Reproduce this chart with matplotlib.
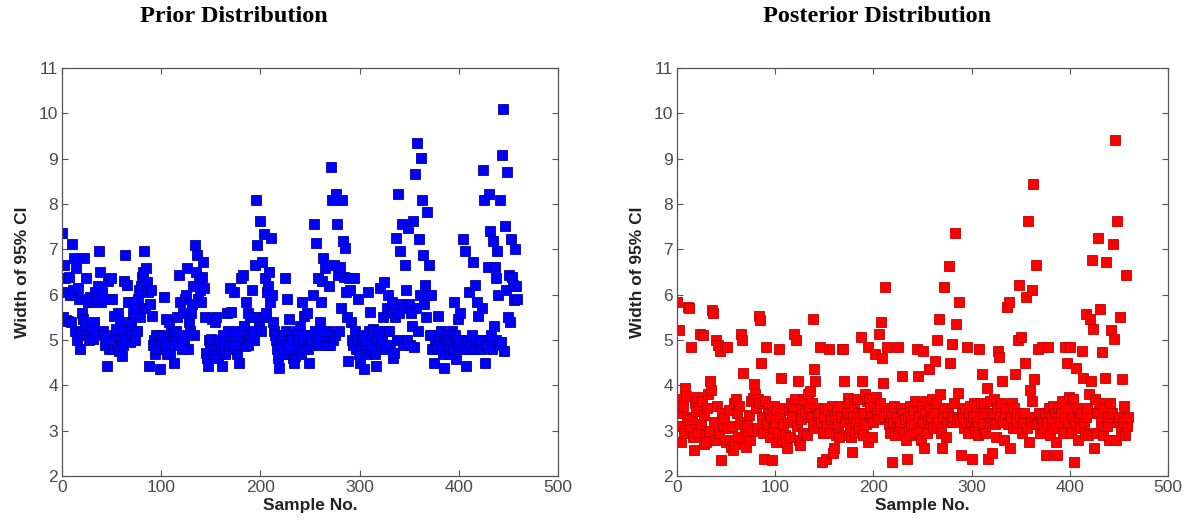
import matplotlib
matplotlib.use("Agg")
import matplotlib.pyplot as plt
import numpy as np

prior_width = [
    7.37, 5.50, 6.66, 6.36, 5.45, 6.06, 5.43, 6.40, 6.00, 5.40,
    7.12, 6.10, 6.80, 5.20, 6.58, 5.00, 6.14, 5.91, 4.80, 5.17,
    5.60, 5.47, 6.80, 5.30, 6.36, 5.10, 5.84, 5.00, 5.95, 5.20,
    5.84, 5.02, 5.40, 6.05, 5.17, 5.90, 6.20, 6.96, 6.50, 5.84,
    6.06, 5.20, 5.10, 4.90, 5.00, 4.42, 6.30, 4.80, 5.90, 6.36,
    5.90, 4.80, 5.54, 5.10, 5.24, 4.90, 5.60, 4.75, 5.40, 5.00,
    4.65, 4.90, 5.20, 6.30, 6.88, 5.00, 6.21, 5.84, 5.24, 4.95,
    5.39, 5.10, 5.60, 5.84, 5.00, 5.70, 5.20, 5.90, 6.10, 5.50,
    6.20, 6.40, 6.50, 6.96, 5.70, 6.58, 6.29, 6.06, 4.42, 5.80,
    6.10, 5.54, 4.90, 5.00, 4.70, 5.10, 4.90, 4.80, 5.10, 4.35,
    5.00, 4.80, 5.10, 5.95, 4.90, 5.47, 4.70, 5.00, 5.40, 4.72,
    5.20, 4.95, 5.10, 4.50, 5.00, 5.20, 5.50, 4.90, 6.43, 5.84,
    5.10, 4.80, 5.60, 5.00, 5.90, 6.00, 6.58, 4.80, 5.40, 5.20,
    5.60, 5.80, 6.20, 5.10, 7.10, 6.50, 6.88, 5.90, 6.36, 6.10,
    5.84, 6.40, 6.73, 6.14, 5.50, 4.72, 4.60, 4.42, 5.00, 4.80,
    5.02, 5.47, 4.70, 4.80, 5.39, 5.50, 4.90, 4.60, 5.00, 4.70,
    4.80, 4.42, 5.10, 4.87, 4.70, 5.00, 5.60, 5.20, 4.90, 6.14,
    5.62, 5.10, 4.80, 6.06, 5.00, 5.20, 4.70, 4.90, 4.50, 5.10,
    6.36, 5.00, 6.43, 5.30, 4.87, 5.84, 5.00, 5.60, 4.90, 5.10,
    5.50, 5.00, 6.10, 5.20, 5.00, 6.66, 8.08, 7.10, 5.50, 5.40,
    7.63, 5.20, 6.73, 5.50, 7.33, 6.36, 5.60, 6.06, 6.20, 6.50,
    5.84, 7.25, 6.00, 5.39, 5.20, 5.10, 5.00, 4.80, 4.60, 4.39,
    4.90, 5.00, 4.70, 5.10, 4.80, 6.36, 5.20, 5.91, 4.90, 5.47,
    4.70, 5.10, 5.00, 4.60, 4.50, 4.65, 4.80, 5.20, 4.90, 5.00,
    5.30, 4.70, 5.84, 5.00, 5.54, 4.80, 5.10, 5.60, 4.80, 4.50,
    5.10, 4.90, 5.00, 6.00, 7.55, 5.20, 7.14, 4.90, 6.36, 5.00,
    5.40, 5.84, 6.30, 6.80, 5.17, 6.58, 5.00, 4.90, 5.20, 6.20,
    4.90, 8.82, 8.08, 5.00, 6.66, 5.10, 8.22, 7.55, 6.43, 5.20,
    6.60, 5.70, 8.08, 7.18, 6.40, 7.03, 6.06, 5.50, 4.53, 6.36,
    6.10, 5.40, 5.00, 4.90, 6.36, 5.20, 4.80, 5.00, 5.91, 4.70,
    4.50, 5.00, 4.80, 5.10, 4.35, 4.90, 5.00, 4.70, 6.06, 5.20,
    5.62, 4.80, 5.00, 4.90, 5.24, 5.10, 4.70, 4.42, 5.00, 4.80,
    5.20, 6.14, 4.90, 5.00, 5.50, 6.29, 4.80, 5.20, 5.70, 5.99,
    5.20, 4.90, 5.60, 5.84, 4.60, 4.72, 5.50, 7.25, 5.00, 8.22,
    5.60, 6.96, 5.80, 7.55, 4.90, 5.70, 6.66, 6.10, 5.00, 7.47,
    5.80, 4.90, 5.60, 5.30, 7.63, 4.85, 8.67, 5.70, 9.34, 5.20,
    7.22, 6.00, 9.01, 8.08, 6.88, 5.80, 6.21, 5.50, 7.82, 5.99,
    6.66, 5.10, 5.99, 4.80, 5.10, 4.50, 4.90, 5.00, 4.80, 5.54,
    5.00, 4.90, 5.20, 4.80, 4.70, 4.39, 5.00, 4.90, 5.10, 4.80,
    5.00, 4.70, 4.90, 5.20, 4.80, 5.84, 5.10, 4.57, 5.00, 5.47,
    4.90, 5.60, 4.80, 5.00, 7.22, 4.90, 6.96, 4.42, 5.00, 4.80,
    6.06, 5.00, 4.90, 5.10, 6.73, 4.80, 6.21, 5.00, 5.84, 5.54,
    4.90, 5.00, 4.80, 5.70, 8.75, 8.08, 4.50, 5.00, 4.90, 6.60,
    8.22, 7.40, 5.10, 4.80, 7.18, 5.30, 6.62, 6.36, 5.00, 6.96,
    5.99, 4.90, 8.08, 4.95, 9.08, 10.09, 4.76, 7.52, 6.10, 8.71,
    5.50, 6.43, 5.39, 7.22, 6.40, 6.21, 5.88, 7.00, 6.20, 5.90,
]

posterior_width = [
    5.84, 3.39, 5.21, 3.70, 2.76, 3.10, 3.55, 2.95, 3.95, 3.76,
    3.30, 5.73, 5.70, 3.10, 4.84, 3.25, 2.85, 2.57, 3.60, 3.43,
    3.75, 2.95, 3.50, 5.14, 3.15, 3.65, 5.10, 2.70, 3.35, 2.90,
    2.76, 3.50, 3.80, 3.00, 4.10, 3.90, 5.66, 5.60, 3.20, 2.80,
    4.99, 3.55, 4.90, 2.95, 4.76, 2.35, 3.40, 3.10, 3.28, 4.85,
    2.75, 4.84, 3.05, 3.45, 2.80, 2.65, 3.10, 2.57, 3.60, 2.70,
    3.70, 3.40, 2.85, 3.55, 3.15, 5.14, 4.99, 4.28, 2.76, 3.05,
    2.65, 3.20, 2.90, 3.35, 2.80, 3.65, 3.00, 3.72, 4.02, 3.80,
    3.50, 3.05, 3.70, 3.60, 5.54, 5.45, 4.50, 3.30, 2.95, 2.38,
    3.65, 4.84, 3.15, 3.50, 3.40, 2.85, 3.30, 2.35, 3.05, 3.55,
    3.20, 2.75, 3.45, 2.95, 4.80, 3.30, 4.17, 2.80, 3.15, 3.50,
    2.90, 2.75, 2.61, 3.20, 3.45, 2.85, 3.60, 3.30, 3.55, 5.14,
    3.70, 4.99, 3.10, 4.10, 2.80, 2.68, 3.25, 3.50, 2.95, 3.70,
    3.40, 3.65, 2.90, 3.80, 3.50, 3.87, 3.30, 3.60, 5.47, 3.15,
    4.35, 4.10, 3.50, 3.35, 3.05, 3.40, 4.84, 3.20, 2.31, 2.95,
    3.30, 3.50, 2.38, 3.10, 3.45, 4.80, 2.95, 3.25, 3.55, 2.50,
    2.61, 3.30, 2.90, 3.45, 3.15, 2.85, 3.55, 3.30, 4.80, 4.80,
    4.10, 3.20, 2.90, 3.40, 3.72, 3.60, 3.05, 2.85, 2.53, 3.30,
    3.55, 2.95, 3.20, 3.70, 3.40, 3.05, 3.30, 5.06, 4.10, 2.90,
    3.40, 3.80, 3.15, 3.65, 2.76, 4.84, 3.70, 3.50, 3.30, 2.85,
    3.20, 3.55, 4.69, 3.75, 3.40, 3.25, 5.14, 3.60, 5.40, 4.60,
    4.06, 3.30, 6.18, 3.50, 4.84, 3.40, 3.15, 2.95, 3.30, 2.31,
    3.20, 3.55, 2.90, 3.40, 3.30, 4.84, 3.05, 3.20, 3.50, 4.20,
    3.40, 2.95, 3.25, 2.80, 2.38, 3.30, 3.05, 3.55, 3.20, 2.90,
    3.45, 3.15, 3.65, 2.95, 4.80, 4.20, 3.30, 3.05, 2.80, 3.55,
    3.20, 4.76, 2.61, 3.40, 3.65, 2.95, 3.25, 4.35, 3.50, 3.30,
    3.70, 3.05, 3.40, 4.54, 3.60, 4.99, 3.20, 5.47, 3.80, 2.95,
    2.61, 3.30, 6.18, 3.50, 2.85, 3.20, 3.40, 6.63, 4.50, 3.20,
    4.91, 3.30, 3.60, 7.37, 5.36, 3.25, 3.83, 5.84, 3.20, 2.46,
    3.40, 3.30, 3.05, 3.50, 3.20, 4.84, 2.95, 3.40, 3.55, 3.20,
    2.38, 3.30, 3.60, 3.05, 3.40, 3.20, 3.55, 2.90, 4.80, 3.30,
    3.60, 4.24, 3.15, 3.50, 2.95, 3.40, 3.95, 2.38, 3.20, 3.65,
    3.30, 2.50, 3.40, 3.70, 3.15, 2.85, 3.50, 4.76, 4.62, 3.30,
    3.60, 4.10, 3.20, 2.80, 3.40, 3.50, 5.73, 3.15, 5.84, 2.61,
    3.30, 3.60, 3.05, 3.50, 4.24, 3.20, 3.40, 4.99, 6.22, 3.30,
    5.06, 2.95, 3.20, 3.40, 4.50, 5.95, 3.05, 7.63, 2.76, 3.90,
    3.20, 6.10, 3.65, 8.45, 4.13, 3.30, 6.66, 3.15, 4.80, 3.40,
    2.95, 3.30, 4.84, 3.20, 3.05, 3.40, 2.46, 3.20, 4.84, 3.50,
    2.90, 3.30, 3.20, 3.55, 3.05, 3.40, 2.76, 2.46, 3.30, 3.50,
    3.20, 3.40, 3.65, 2.95, 3.30, 4.84, 3.50, 4.50, 3.20, 3.75,
    4.84, 2.95, 3.30, 3.70, 2.31, 3.20, 4.39, 3.50, 2.80, 3.30,
    3.05, 3.40, 4.76, 4.17, 3.20, 2.95, 3.30, 5.58, 3.50, 2.90,
    3.80, 5.47, 4.10, 6.77, 5.25, 2.61, 3.70, 2.95, 3.40, 7.26,
    3.60, 5.69, 3.20, 4.73, 2.90, 3.50, 4.17, 6.73, 3.10, 3.30,
    2.80, 3.60, 5.21, 3.40, 7.11, 5.03, 9.42, 2.79, 7.63, 3.20,
    3.30, 5.51, 3.00, 4.13, 3.20, 3.54, 2.90, 6.44, 3.10, 3.30,
]

sample_no = np.arange(len(prior_width))
x_ticks = [0, 100, 200, 300, 400, 500]
y_ticks = [2, 3, 4, 5, 6, 7, 8, 9, 10, 11]
titles = ["Prior Distribution", "Posterior Distribution"]
xlabel = "Sample No."
ylabel = "Width of 95% CI"

W, H = 1186, 523
fig = plt.figure(figsize=(W / 100, H / 100), dpi=100)

def px_axes(x0, x1, ytop, ybot):
    return fig.add_axes([x0 / W, 1 - ybot / H, (x1 - x0) / W, (ybot - ytop) / H])

ax1 = px_axes(62, 558, 68, 476)
ax2 = px_axes(677, 1168, 68, 476)

specs = [
    (ax1, prior_width, "#0000ff", "#0000b0"),
    (ax2, posterior_width, "#ff0000", "#c00000"),
]
for ax, vals, fc, ec in specs:
    ax.plot(sample_no, vals, linestyle="none", marker="s", markersize=7,
            markerfacecolor=fc, markeredgecolor=ec, markeredgewidth=0.6)
    ax.set_xlim(0, 500)
    ax.set_ylim(2, 11)
    ax.set_xticks(x_ticks)
    ax.set_yticks(y_ticks)
    ax.tick_params(direction="in", top=True, right=True, length=4,
                   labelsize=12.5, labelcolor="#4a4a4a", color="#555555", pad=3)
    for sp in ax.spines.values():
        sp.set_color("#555555")
        sp.set_linewidth(0.9)
    for lab in ax.get_xticklabels() + ax.get_yticklabels():
        lab.set_family("Liberation Sans")
    ax.set_xlabel(xlabel, fontsize=12.5, fontweight="bold", family="Liberation Sans",
                  labelpad=2, color="#222222")
    ax.set_ylabel(ylabel, fontsize=12.5, fontweight="bold", family="Liberation Sans",
                  labelpad=6, color="#222222")

fig.text(234 / W, 1 - 16 / H, titles[0], ha="center", va="center",
         fontsize=17.5, fontweight="bold", family="Liberation Serif")
fig.text(877 / W, 1 - 16 / H, titles[1], ha="center", va="center",
         fontsize=17.5, fontweight="bold", family="Liberation Serif")

fig.savefig("out.png", dpi=100)
